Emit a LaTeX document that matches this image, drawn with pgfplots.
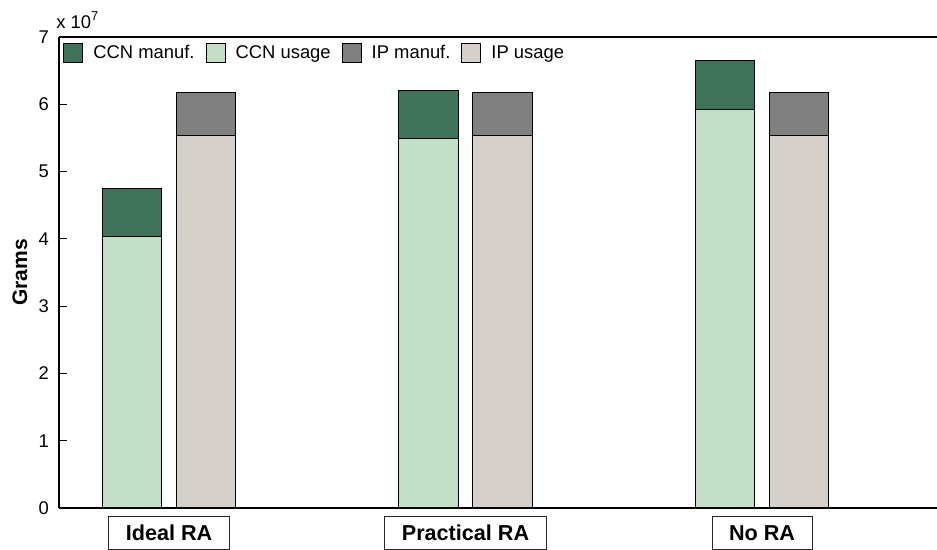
\documentclass[border=0pt]{standalone}
\usepackage{pgfplots}
\pgfplotsset{compat=1.18}
\usepackage{fontspec}
\setmainfont{Liberation Sans}
\definecolor{ccnman}{RGB}{60,115,89}
\definecolor{ccnuse}{RGB}{194,223,200}
\definecolor{ipman}{RGB}{128,128,128}
\definecolor{ipuse}{RGB}{213,208,202}
\newcommand{\fs}{\fontsize{9.2}{11}\selectfont}
\begin{document}
\begin{tikzpicture}
\begin{axis}[
  name=ax,
  scale only axis, width=439pt, height=235.5pt,
  xmin=0.629, xmax=3.59, ymin=0, ymax=70000000,
  axis x line*=box, axis y line*=left,
  axis line style={line width=0.6pt, black},
  ybar, bar width=0.2, bar shift=0pt,
  xtick={1,2,3}, xticklabels={Ideal RA, Practical RA, No RA},
  x tick style={draw=none},
  xticklabel style={draw=black!85, line width=0.5pt, font=\bfseries\fontsize{10.8}{12}\selectfont,
    inner xsep=8.5pt, inner ysep=0pt, minimum height=16.5pt, anchor=north, yshift=-3.85pt},
  ytick={0,10000000,20000000,30000000,40000000,50000000,60000000,70000000},
  scaled y ticks=base 10:-7,
  ytick scale label code/.code={x 10\textsuperscript{7}},
  every y tick scale label/.style={at={(rel axis cs:0,1)}, anchor=south west, inner sep=0pt, yshift=4pt, font=\fs},
  /pgf/number format/assume math mode=true,
  yticklabel style={/pgf/number format/fixed, font=\fs, xshift=-1.5pt},
  tick align=inside, major tick length=4pt,
  y tick style={black, line width=0.5pt},
  ylabel={Grams},
  every axis y label/.style={at={(rel axis cs:0,0.5)}, xshift=-19.5pt, rotate=90, anchor=center,
    font=\bfseries\fontsize{10.5}{12}\selectfont},
  legend columns=4,
  legend image code/.code={\draw[#1, draw=black, line width=0.5pt] (0pt,-4.75pt) rectangle (9.5pt,4.75pt);},
  legend style={at={(rel axis cs:0,1)}, anchor=north west, xshift=2pt, yshift=-3pt,
    draw=none, fill=none, inner sep=0pt, font=\fs, nodes={inner sep=0pt},
    /tikz/every odd column/.append style={column sep=5pt},
    /tikz/every even column/.append style={column sep=5.5pt}},
  legend cell align=left,
]
\addplot[fill=ccnman, draw=black, line width=0.5pt, bar shift=0pt] coordinates {(0.875,47550000) (1.875,62120000) (2.875,66470000)};
\addlegendentry{CCN manuf.}
\addplot[fill=ccnuse, draw=black, line width=0.5pt, bar shift=0pt] coordinates {(0.875,40420000) (1.875,54980000) (2.875,59150000)};
\addlegendentry{CCN usage}
\addplot[fill=ipman, draw=black, line width=0.5pt, bar shift=0pt] coordinates {(1.125,61720000) (2.125,61720000) (3.125,61720000)};
\addlegendentry{IP manuf.}
\addplot[fill=ipuse, draw=black, line width=0.5pt, bar shift=0pt] coordinates {(1.125,55430000) (2.125,55430000) (3.125,55430000)};
\addlegendentry{IP usage}
\end{axis}
\pgfresetboundingbox
\path ([shift={(-29.5pt,-21pt)}]ax.south west) rectangle ([shift={(439pt,254pt)}]ax.south west);
\end{tikzpicture}
\end{document}
